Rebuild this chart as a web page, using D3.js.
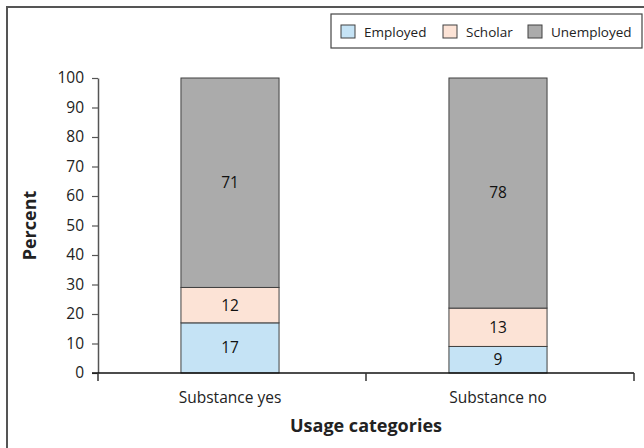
<!DOCTYPE html>
<html>
<head>
<meta charset="utf-8">
<script src="https://cdn.jsdelivr.net/npm/d3@7"></script>
<style>
  html, body { margin: 0; padding: 0; background: #fff; }
  svg { display: block; font-family: "Open Sans", "Liberation Sans", sans-serif; }
</style>
</head>
<body>
<svg id="chart" width="644" height="448"></svg>
<script>
// Usage categories and the share of each employment status (percent)
const categories = ["Substance yes", "Substance no"];
const seriesNames = ["Employed", "Scholar", "Unemployed"];
const employed = [17, 9];
const scholar = [12, 13];
const unemployed = [71, 78];
const yTicks = [0, 10, 20, 30, 40, 50, 60, 70, 80, 90, 100];
const colors = ["#c5e3f5", "#fce3d6", "#ababab"];

const svg = d3.select("#chart");

// outer frame
svg.append("rect")
  .attr("x", 7).attr("y", 7).attr("width", 700).attr("height", 500)
  .attr("fill", "none").attr("stroke", "#555").attr("stroke-width", 2);

const plotLeft = 98, plotRight = 634, plotTop = 78, plotBottom = 373;

const x = d3.scaleBand().domain(categories).range([plotLeft, plotRight]).padding(0);
const y = d3.scaleLinear().domain([0, 100]).range([plotBottom, plotTop]);
const barW = x.bandwidth() * 0.366;
const barShift = -2;

const rows = categories.map((c, i) => ({
  category: c, Employed: employed[i], Scholar: scholar[i], Unemployed: unemployed[i]
}));
const stacked = d3.stack().keys(seriesNames)(rows);

// bars
stacked.forEach((layer, li) => {
  const g = svg.append("g");
  g.selectAll("rect").data(layer).join("rect")
    .attr("x", d => x(d.data.category) + x.bandwidth() / 2 - barW / 2 + barShift)
    .attr("y", d => y(d[1]))
    .attr("width", barW)
    .attr("height", d => y(d[0]) - y(d[1]))
    .attr("fill", colors[li])
    .attr("stroke", "#404040").attr("stroke-width", 1);
  g.selectAll("text").data(layer).join("text")
    .attr("x", d => x(d.data.category) + x.bandwidth() / 2 + barShift)
    .attr("y", d => y((d[0] + d[1]) / 2))
    .attr("dy", "0.35em")
    .attr("text-anchor", "middle")
    .attr("font-size", 15.5)
    .attr("fill", "#111")
    .text(d => d.data[layer.key]);
});

// y axis
const yAxis = svg.append("g").attr("transform", `translate(${plotLeft},0)`)
  .call(d3.axisLeft(y).tickValues(yTicks).tickSize(6).tickSizeOuter(0));
yAxis.select(".domain").attr("stroke", "#555").attr("stroke-width", 1.5);
yAxis.selectAll(".tick line").attr("stroke", "#555").attr("stroke-width", 1.2);
yAxis.selectAll(".tick text").attr("font-size", 15.5).attr("fill", "#222")
  .attr("font-family", "'Open Sans', sans-serif").attr("x", -14);

// x axis with ticks at band boundaries
const xAxisG = svg.append("g").attr("transform", `translate(0,${plotBottom})`);
xAxisG.append("line").attr("x1", plotLeft - 6).attr("x2", plotRight)
  .attr("stroke", "#111").attr("stroke-width", 1.5);
const bounds = [plotLeft].concat(categories.map(c => x(c) + x.bandwidth()));
xAxisG.selectAll("line.tk").data(bounds).join("line").attr("class", "tk")
  .attr("x1", d => d).attr("x2", d => d).attr("y1", 0).attr("y2", 8)
  .attr("stroke", "#333").attr("stroke-width", 1.5);
xAxisG.selectAll("text").data(categories).join("text")
  .attr("x", d => x(d) + x.bandwidth() / 2 + barShift)
  .attr("y", 30)
  .attr("text-anchor", "middle")
  .attr("font-size", 15.5).attr("fill", "#222")
  .text(d => d);

// axis titles
svg.append("text")
  .attr("transform", `translate(36,${(plotTop + plotBottom) / 2}) rotate(-90)`)
  .attr("text-anchor", "middle")
  .attr("font-size", 18).attr("font-weight", "bold").attr("fill", "#222")
  .text("Percent");
svg.append("text")
  .attr("x", (plotLeft + plotRight) / 2).attr("y", 432)
  .attr("text-anchor", "middle")
  .attr("font-size", 18).attr("font-weight", "bold").attr("fill", "#222")
  .text("Usage categories");

// legend
const legend = svg.append("g");
legend.append("rect")
  .attr("x", 331).attr("y", 14).attr("width", 311).attr("height", 34)
  .attr("fill", "#fff").attr("stroke", "#444").attr("stroke-width", 1.2);
const itemX = [341, 443, 528];
seriesNames.forEach((name, i) => {
  legend.append("rect")
    .attr("x", itemX[i]).attr("y", 25).attr("width", 14).attr("height", 13)
    .attr("fill", colors[i]).attr("stroke", "#404040").attr("stroke-width", 1);
  legend.append("text")
    .attr("x", itemX[i] + 23).attr("y", 32).attr("dy", "0.35em")
    .attr("font-size", 13.5).attr("fill", "#222")
    .text(name);
});
</script>
</body>
</html>
